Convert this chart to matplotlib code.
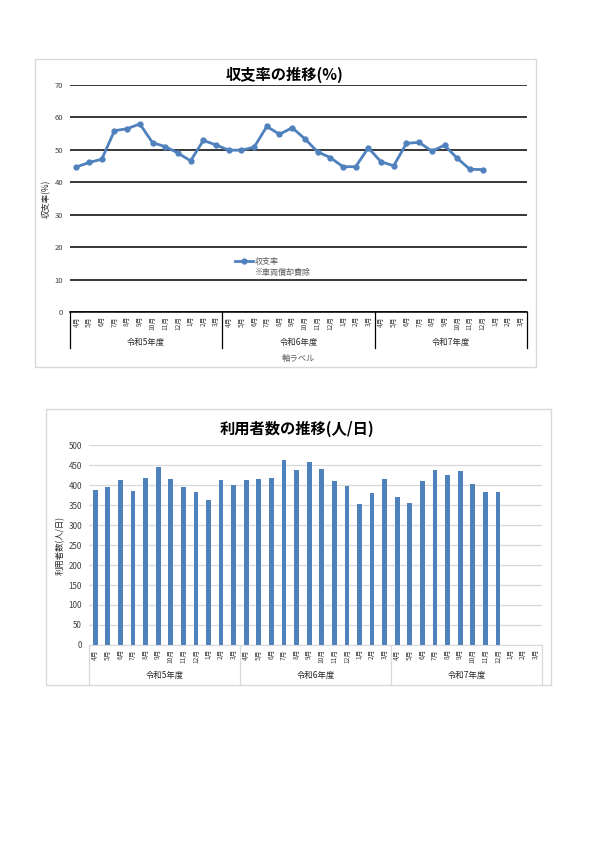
import numpy as np
import matplotlib
matplotlib.use("Agg")
import matplotlib.pyplot as plt
import matplotlib.transforms as mtransforms
from matplotlib.lines import Line2D
from matplotlib.patches import Rectangle

plt.rcParams['font.family'] = ['Noto Sans CJK JP', 'DejaVu Sans']

# データ
months = ["4月", "5月", "6月", "7月", "8月", "9月", "10月", "11月", "12月", "1月", "2月", "3月"]
years = ["令和5年度", "令和6年度", "令和7年度"]

# 収支率(%)  令和5年度4月〜令和7年度12月
ratio = [44.7, 46.1, 47.1, 55.9, 56.5, 58.0, 52.2, 51.0, 49.0, 46.6, 52.9, 51.5,
         49.9, 49.9, 50.8, 57.2, 54.8, 56.8, 53.4, 49.4, 47.6, 44.8, 44.8, 50.6,
         46.3, 45.1, 52.0, 52.3, 49.6, 51.4, 47.4, 44.0, 43.9]

# 利用者数(人/日)
users = [387, 395, 413, 384, 418, 444, 416, 395, 382, 363, 413, 400,
         413, 415, 418, 462, 438, 458, 440, 409, 398, 353, 381, 416,
         369, 354, 409, 438, 424, 436, 403, 382, 383]

blue = "#4f81bd"
n_cat = len(months) * len(years)
cats = [m for y in years for m in months]

fig = plt.figure(figsize=(6, 8.48), dpi=100)

# グラフの枠
for (x0, y0, w, h) in [(0.0583, 0.5672, 0.835, 0.3632), (0.0767, 0.1922, 0.8417, 0.3255)]:
    fig.patches.append(Rectangle((x0, y0), w, h, transform=fig.transFigure,
                                 fill=False, edgecolor="#d9d9d9", lw=1.0, zorder=-1))


def category_axis(ax, line_color, group_y, line_bottom, fs):
    ax.set_xlim(-0.5, n_cat - 0.5)
    ax.set_xticks(np.arange(n_cat))
    ax.set_xticklabels(cats, rotation=90, fontsize=fs, color="#404040")
    ax.tick_params(axis="x", length=0, pad=3)
    trans = mtransforms.blended_transform_factory(ax.transData, ax.transAxes)
    for k in range(len(years) + 1):
        xb = k * len(months) - 0.5
        ax.plot([xb, xb], [0, line_bottom], transform=trans, color=line_color,
                lw=0.9, clip_on=False)
    for k, yname in enumerate(years):
        xc = k * len(months) + (len(months) - 1) / 2
        ax.text(xc, group_y, yname, transform=trans, ha="center", va="center",
                fontsize=6, color="#262626")
    return trans


# ---- 収支率の推移 ----
ax1 = fig.add_axes([0.1167, 0.6321, 0.7617, 0.2677])
ax1.plot(np.arange(len(ratio)), ratio, color=blue, lw=2, marker="o", ms=3.5,
         label="収支率")
ax1.set_ylim(0, 70)
ax1.set_yticks(np.arange(0, 71, 10))
ax1.yaxis.grid(True, color="black", lw=1.1)
ax1.set_axisbelow(True)
for s in ["left", "right", "top"]:
    ax1.spines[s].set_visible(False)
ax1.spines["bottom"].set_color("black")
ax1.spines["bottom"].set_linewidth(1.1)
ax1.tick_params(axis="y", length=0, labelsize=5.5, labelcolor="#404040", pad=5)
trans1 = category_axis(ax1, "black", -0.132, -0.159, 4.8)
ax1.text(17.5, -0.203, "軸ラベル", transform=trans1, ha="center", va="center",
         fontsize=6, color="#595959")
ax1.set_ylabel("収支率(%)", fontsize=6, color="#262626")
ax1.yaxis.set_label_coords(-0.042, 0.5)
ax1.set_title("収支率の推移(%)", fontsize=11, fontweight="bold", pad=4, x=0.47)
h1 = ax1.get_legend_handles_labels()[0][0]
h2 = Line2D([], [], color="none")
ax1.legend([h1, h2], ["収支率", "※車両償却費除"], loc="upper left",
           bbox_to_anchor=(0.352, 0.262), frameon=False, fontsize=5.8,
           handlelength=2.2, handletextpad=0.3, labelspacing=0.25, borderpad=0,
           labelcolor="#595959")

# ---- 利用者数の推移 ----
ax2 = fig.add_axes([0.1483, 0.2394, 0.755, 0.2358])
ax2.bar(np.arange(len(users)), users, width=0.38, color=blue)
ax2.set_ylim(0, 500)
ax2.set_yticks(np.arange(0, 501, 50))
ax2.yaxis.grid(True, color="#d9d9d9", lw=0.9)
ax2.set_axisbelow(True)
for s in ["left", "right", "top"]:
    ax2.spines[s].set_visible(False)
ax2.spines["bottom"].set_color("#d9d9d9")
ax2.tick_params(axis="y", length=0, labelsize=5.8, labelcolor="#404040", pad=5)
category_axis(ax2, "#d9d9d9", -0.15, -0.2, 4.8)
ax2.set_ylabel("利用者数(人/日)", fontsize=6, color="#262626")
ax2.yaxis.set_label_coords(-0.053, 0.5)
ax2.set_title("利用者数の推移(人/日)", fontsize=11, fontweight="bold", pad=8, x=0.46)

fig.savefig("out.png", dpi=100, facecolor="white")
